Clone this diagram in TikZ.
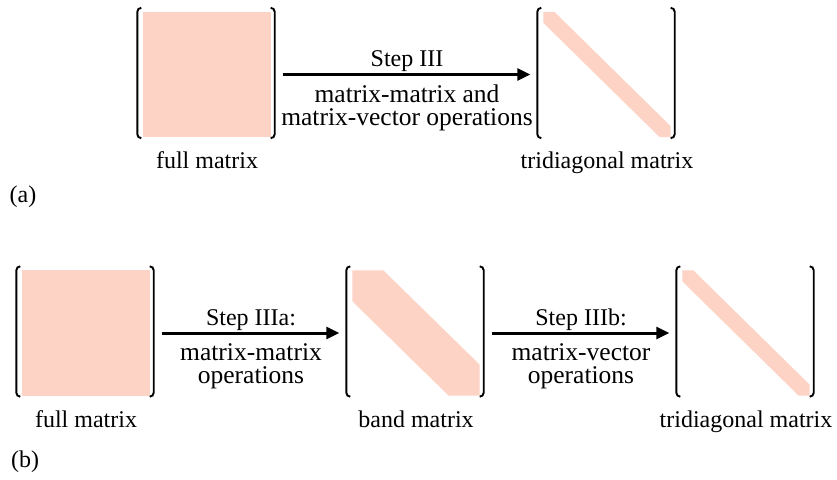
\documentclass[tikz,border=0pt]{standalone}
\usepackage{fontspec}
\setmainfont{Liberation Serif}
\usetikzlibrary{arrows.meta, positioning, calc}
\definecolor{peach}{RGB}{252,211,196}
\tikzset{x = 1pt, y = 1pt,
	 node distance = 330pt, on grid,
	 >= {Triangle[length = 13pt, width = 12pt]},
	 every node/.style = {font = \fontsize{24}{23}\selectfont},
	 matbox/.style = {minimum width = 127pt, minimum height = 125pt,
			  inner sep = 0pt},
	 bracket/.style = {line width = 1.9pt, rounded corners = 4pt},
	 steparrow/.style = {->, line width = 3pt,
			     shorten < = 12pt, shorten > = 13pt},
	 steptext/.style = {below, inner sep = 9pt, align = center,
			    font = \fontsize{25.5}{23}\selectfont}}

\begin{document}
\begin{tikzpicture}
      \useasboundingbox (0,0) rectangle (837,-479);
      \node [matbox] (fa) at (207,-74.5) {};
      \node [matbox] (ta) [right = 400pt of fa] {};
      \node [matbox] (fb) at (86,-333) {};
      \node [matbox] (bb) [right = of fb] {};
      \node [matbox] (tb) [right = of bb] {};
      \fill [peach] (fa.north west) rectangle (fa.south east);
      \fill [peach] (fb.north west) rectangle (fb.south east);
      \foreach \m/\w in {ta/11, bb/31, tb/11}
	\fill [peach] (\m.north west) -- ++(\w,0)
		      -- ($(\m.south east)+(0,\w)$) -- (\m.south east)
		      -- ++(-\w,0) -- ($(\m.north west)+(0,-\w)$) -- cycle;
      \foreach \m in {fa, ta, fb, bb, tb} {
	\draw [bracket] ($(\m.north west)+(-2,4)$) -- ++(-4,0)
			|- ($(\m.south west)+(-2,-1)$);
	\draw [bracket] ($(\m.north east)+(0,4)$) -- ++(4,0)
			|- ($(\m.south east)+(0,-1)$);
      }
      \node (fal) [below = 31pt of fa.south, anchor = base] {full matrix};
      \node (tal) [below = 31pt of ta.south, anchor = base] {tridiagonal matrix};
      \node (fbl) [below = 32pt of fb.south, anchor = base] {full matrix};
      \node (bbl) [below = 32pt of bb.south, anchor = base] {band matrix};
      \node (tbl) [below = 32pt of tb.south, anchor = base] {tridiagonal matrix};
      \node (a) at (23,-197) {(a)};
      \node (b) at (25,-462) {(b)};
      \path [steparrow] (fa) edge node [above, inner sep = 1pt] {Step III}
				  node [steptext]
				 {matrix-matrix and\\matrix-vector operations} (ta);
      \path [steparrow] (fb) edge node [above, inner sep = 1pt] {Step IIIa:}
				  node [steptext] {matrix-matrix\\operations} (bb)
			(bb) edge node [above, inner sep = 1pt] {Step IIIb:}
				  node [steptext] {matrix-vector\\operations} (tb);
    \end{tikzpicture}
\end{document}
